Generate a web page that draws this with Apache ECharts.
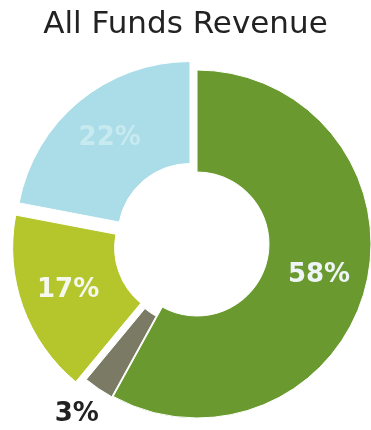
<!DOCTYPE html>
<html>
<head>
<meta charset="utf-8">
<script src="https://cdn.jsdelivr.net/npm/echarts@6/dist/echarts.min.js"></script>
<style>
  html, body { margin: 0; padding: 0; background: #fff; }
  #chart { width: 371px; height: 430px; }
</style>
</head>
<body>
<div id="chart"></div>
<script>
// Revenue shares (percent), clockwise from 12 o'clock
const categories = ['Funds A', 'Funds B', 'Funds C', 'Funds D'];
const shares = [58, 3, 17, 22];
const sliceColors = ['#6a9a2f', '#7b7a64', '#b4c62c', '#aadde8'];
// Smaller slices are pulled out from the ring
const pulledOut = [false, true, true, true];
// The thin slice is drawn on a slightly shorter ring
const shortSlice = 1;

const labelStyles = [
  { color: '#eef4f8', fontSize: 26 },
  { color: '#222222', fontSize: 26 },
  { color: '#f4f8ee', fontSize: 26 },
  { color: 'rgba(255,255,255,0.35)', fontSize: 26 }
];

const chart = echarts.init(document.getElementById('chart'), null, { renderer: 'canvas' });

function ringData(visible) {
  return categories.map((name, i) => {
    const show = visible(i);
    return {
      name: name,
      value: shares[i],
      selected: pulledOut[i],
      itemStyle: show
        ? { color: sliceColors[i], borderColor: '#ffffff', borderWidth: 1 }
        : { color: 'rgba(0,0,0,0)', borderWidth: 0 },
      label: Object.assign({ show: show }, labelStyles[i])
    };
  });
}

const commonSeries = {
  type: 'pie',
  center: [197, 244],
  startAngle: 90,
  clockwise: true,
  selectedMode: 'multiple',
  selectedOffset: 11,
  select: { itemStyle: {} },
  emphasis: { disabled: true },
  label: {
    position: 'inside',
    fontFamily: 'DejaVu Sans, Verdana, sans-serif',
    fontWeight: 'bold',
    formatter: '{c}%'
  },
  labelLine: { show: false }
};

chart.setOption({
  animation: false,
  title: {
    text: 'All Funds Revenue',
    left: 'center',
    top: 4,
    textStyle: {
      fontFamily: 'DejaVu Sans, Verdana, sans-serif',
      fontSize: 31,
      fontWeight: 'normal',
      color: '#222222'
    }
  },
  series: [
    Object.assign({}, commonSeries, {
      radius: [72, 174],
      data: ringData(i => i !== shortSlice)
    }),
    Object.assign({}, commonSeries, {
      radius: [72, 164],
      silent: true,
      data: ringData(i => i === shortSlice),
      // the thin slice's value sits below it, outside the ring
      labelLayout: function (params) {
        if (params.dataIndex !== shortSlice) return {};
        return { dx: -46, dy: 61 };
      }
    })
  ]
});
</script>
</body>
</html>
